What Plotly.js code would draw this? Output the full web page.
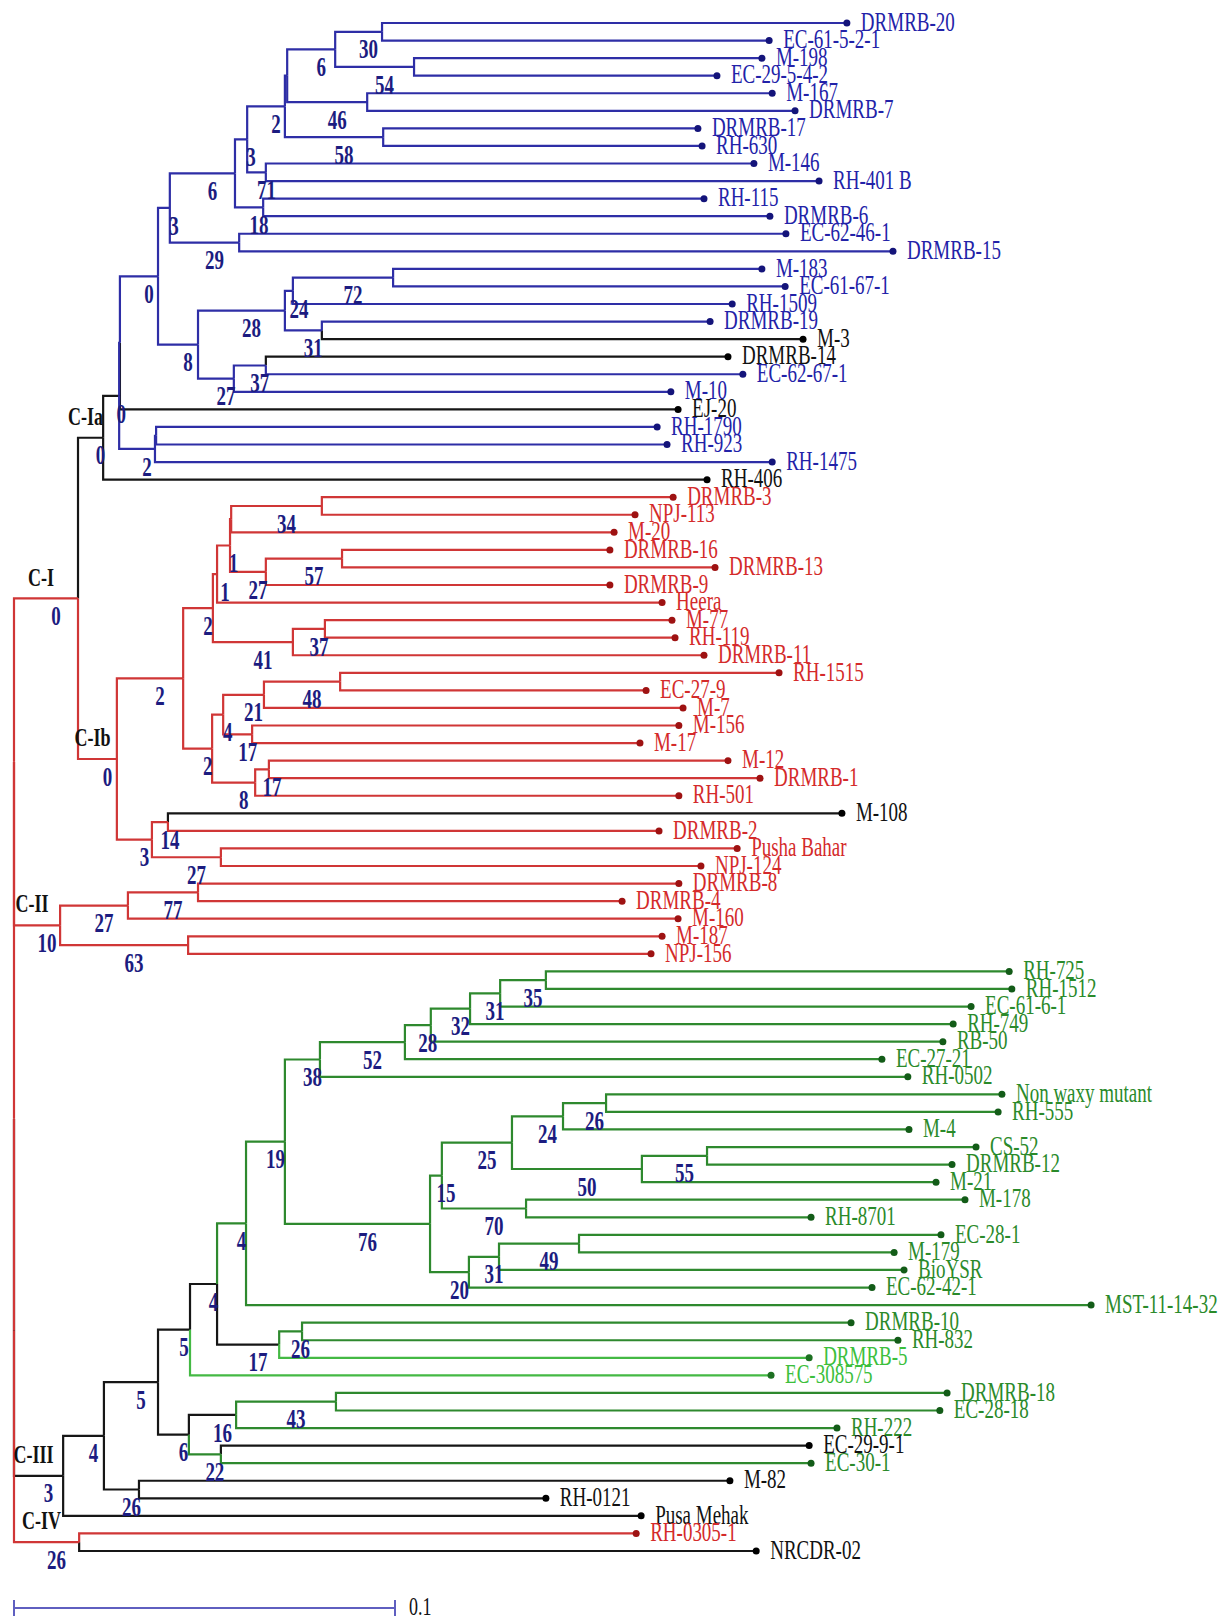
<!DOCTYPE html>
<html><head><meta charset="utf-8">
<script src="https://cdn.plot.ly/plotly-3.0.1.min.js"></script>
<style>html,body{margin:0;padding:0;background:#fff}#chart{width:1229px;height:1624px}</style>
</head><body><div id="chart"></div>
<script>
// ---------- DATA ----------
const leafNames = ['DRMRB-20','EC-61-5-2-1','M-198','EC-29-5-4-2','M-167','DRMRB-7','DRMRB-17','RH-630','M-146','RH-401 B',
 'RH-115','DRMRB-6','EC-62-46-1','DRMRB-15','M-183','EC-61-67-1','RH-1509','DRMRB-19','M-3','DRMRB-14',
 'EC-62-67-1','M-10','EJ-20','RH-1790','RH-923','RH-1475','RH-406','DRMRB-3','NPJ-113','M-20',
 'DRMRB-16','DRMRB-13','DRMRB-9','Heera','M-77','RH-119','DRMRB-11','RH-1515','EC-27-9','M-7',
 'M-156','M-17','M-12','DRMRB-1','RH-501','M-108','DRMRB-2','Pusha Bahar','NPJ-124','DRMRB-8',
 'DRMRB-4','M-160','M-187','NPJ-156','RH-725','RH-1512','EC-61-6-1','RH-749','RB-50','EC-27-21',
 'RH-0502','Non waxy mutant','RH-555','M-4','CS-52','DRMRB-12','M-21','M-178','RH-8701','EC-28-1',
 'M-179','BioYSR','EC-62-42-1','MST-11-14-32','DRMRB-10','RH-832','DRMRB-5','EC-308575','DRMRB-18','EC-28-18',
 'RH-222','EC-29-9-1','EC-30-1','M-82','RH-0121','Pusa Mehak','RH-0305-1','NRCDR-02'];
const leafDist = [0.2186,0.1982,0.1963,0.1845,0.1990,0.2050,0.1795,0.1806,0.1942,0.2113,
 0.1811,0.1984,0.2026,0.2307,0.1963,0.2024,0.1885,0.1827,0.2071,0.1874,
 0.1913,0.1724,0.1743,0.1688,0.1714,0.1990,0.1819,0.1730,0.1630,0.1575,
 0.1564,0.1840,0.1564,0.1701,0.1727,0.1735,0.1811,0.2008,0.1659,0.1756,
 0.1745,0.1643,0.1874,0.1958,0.1745,0.2173,0.1693,0.1898,0.1803,0.1745,
 0.1596,0.1743,0.1701,0.1672,0.2612,0.2619,0.2512,0.2465,0.2438,0.2278,
 0.2346,0.2593,0.2583,0.2349,0.2525,0.2462,0.2420,0.2496,0.2092,0.2433,
 0.2310,0.2336,0.2252,0.2827,0.2197,0.2320,0.2087,0.1987,0.2449,0.2430,
 0.2160,0.2087,0.2092,0.1879,0.1396,0.1646,0.1633,0.1948];
const leafGroup = ['b','b','b','b','b','b','b','b','b','b',
 'b','b','b','b','b','b','b','b','k','k',
 'b','b','k','b','b','b','k','r','r','r',
 'r','r','r','r','r','r','r','r','r','r',
 'r','r','r','r','r','k','r','r','r','r',
 'r','r','r','r','g','g','g','g','g','g',
 'g','g','g','g','g','g','g','g','g','g',
 'g','g','g','g','g','g','lg','lg','g','g',
 'g','k','g','k','k','k','r','k'];

// internal nodes, children listed before parents
const nodeNames = ['a','b','c','d','e','f','g','k','h','l','j','m','n','p','q','r','s','t','u','v','w','x1','y1','y2','x2','CIa',
 'aa','bb','ee','dd','cc','ff','ii','hh','gg','ll','mm','nn','oo','qq','pp','kk','jj','ss','tt','rr','CIb','CI',
 'ww','vv','xx','CII',
 'A1','A2','A3','A4','A5','A6','B1','B2','B3','B4','B5','B6','B7','C1','C2','C3','B8','A7','D1','D2','D3','D4','D5',
 'E1','E2','E3','E4','F1','F2','F3','CIII','CIV','R1','R2','R3'];
const nodeLeft = ['DRMRB-20','M-198','a','M-167','DRMRB-17','c','f','M-146','g','RH-115','h','EC-62-46-1','j','M-183','p','DRMRB-19','q','DRMRB-14','t','s','n','w','RH-1790','y1','x1','x2',
 'DRMRB-3','aa','DRMRB-16','ee','bb','cc','M-77','ii','ff','RH-1515','ll','M-156','mm','M-12','qq','oo','gg','M-108','Pusha Bahar','ss','jj','CIa',
 'DRMRB-8','ww','M-187','vv',
 'RH-725','A1','A2','A3','A4','A5','Non waxy mutant','B1','CS-52','B3','B2','M-178','B5','EC-28-1','C1','C2','B7','A6','A7','DRMRB-10','D2','D1','D4',
 'DRMRB-18','E1','EC-29-9-1','E2','D5','M-82','F1','F3','RH-0305-1','CI','R1','R2'];
const nodeRight = ['EC-61-5-2-1','EC-29-5-4-2','b','DRMRB-7','RH-630','d','e','RH-401 B','k','DRMRB-6','l','DRMRB-15','m','EC-61-67-1','RH-1509','M-3','r','EC-62-67-1','M-10','u','v','EJ-20','RH-923','RH-1475','y2','RH-406',
 'NPJ-113','M-20','DRMRB-13','DRMRB-9','dd','Heera','RH-119','DRMRB-11','hh','EC-27-9','M-7','M-17','nn','DRMRB-1','RH-501','pp','kk','DRMRB-2','NPJ-124','tt','rr','CIb',
 'DRMRB-4','M-160','NPJ-156','xx',
 'RH-1512','EC-61-6-1','RH-749','RB-50','EC-27-21','RH-0502','RH-555','M-4','DRMRB-12','M-21','B4','RH-8701','B6','M-179','BioYSR','EC-62-42-1','C3','B8','MST-11-14-32','RH-832','DRMRB-5','D3','EC-308575',
 'EC-28-18','RH-222','EC-30-1','E3','E4','RH-0121','F2','Pusa Mehak','NRCDR-02','CII','CIII','CIV'];
const nodeDist = [0.0966,0.1050,0.0843,0.0927,0.0969,0.0717,0.0711,0.0661,0.0612,0.0654,0.0580,0.0591,0.0409,0.0995,0.0732,0.0808,0.0711,0.0661,0.0577,0.0483,0.0378,0.0278,0.0373,0.0370,0.0276,0.0234,
 0.0808,0.0570,0.0861,0.0661,0.0567,0.0533,0.0816,0.0732,0.0522,0.0856,0.0656,0.0625,0.0549,0.0669,0.0633,0.0520,0.0444,0.0404,0.0543,0.0362,0.0270,0.0168,
 0.0483,0.0299,0.0457,0.0121,
 0.1396,0.1276,0.1197,0.1094,0.1026,0.0803,0.1554,0.1441,0.1819,0.1648,0.1307,0.1344,0.1123,0.1483,0.1273,0.1194,0.1092,0.0711,0.0609,0.0756,0.0696,0.0533,0.0462,
 0.0845,0.0583,0.0543,0.0459,0.0378,0.0328,0.0236,0.0129,0.0171,0,0,0];
const nodeBoot = [30,54,6,46,58,null,2,71,3,18,6,29,3,72,24,31,28,37,27,8,0,null,null,2,0,0,
 34,null,57,27,1,1,37,41,2,48,21,17,4,17,8,2,2,14,27,3,0,0,
 77,27,63,10,
 35,31,32,28,52,38,26,24,55,50,25,70,15,49,31,20,76,19,4,26,17,4,5,
 43,16,22,6,5,26,4,3,26,null,null,null];
const nodeGroup = ['b','b','b','b','b','b','b','b','b','b','b','b','b','b','b','b','b','b','b','b','b','b','b','b','k','k',
 'r','r','r','r','r','r','r','r','r','r','r','r','r','r','r','r','r','r','r','r','r','r',
 'r','r','r','r',
 'g','g','g','g','g','g','g','g','g','g','g','g','g','g','g','g','g','g','g','g','k','k','k',
 'g','k','g','k','k','k','k','k','r','r','r','r'];

const clusterNames = ['C-I','C-Ia','C-Ib','C-II','C-III','C-IV'];
const clusterNodes = ['CI','CIa','CIb','CII','CIII','CIV'];
const scaleLen = 0.1;
const scaleText = '0.1';

// ---------- LAYOUT CONSTANTS ----------
const W = 1229, H = 1624;
const PXU = 3810;      // pixels per distance unit
const X0 = 14;         // pixel of distance 0
const ROW = 17.563;    // pixels per leaf row
const Y0 = 23;         // pixel of first leaf
const dx = px => px / PXU;
const dy = px => px / ROW;

const lineCol = {k:'#161616', b:'#2e2ea6', r:'#d03636', g:'#2e892e', lg:'#44b944'};
const dotCol  = {k:'#000000', b:'#14147a', r:'#9e1212', g:'#135c18', lg:'#1d7022'};
const textCol = {k:'#111111', b:'#2222a8', r:'#d42a2a', g:'#2a8a2a', lg:'#3cbf3c'};
const FONT = 'Liberation Serif, Times New Roman, serif';

// ---------- BUILD TREE ----------
const pos = {}, grp = {}, parentOf = {};
leafNames.forEach((n, i) => { pos[n] = {d: leafDist[i], y: i}; grp[n] = leafGroup[i]; });
nodeNames.forEach((n, i) => {
  const A = pos[nodeLeft[i]], B = pos[nodeRight[i]];
  pos[n] = {d: nodeDist[i], y: (A.y + B.y) / 2};
  grp[n] = nodeGroup[i];
  parentOf[nodeLeft[i]] = n; parentOf[nodeRight[i]] = n;
});

const segs = {k:{x:[],y:[]}, b:{x:[],y:[]}, r:{x:[],y:[]}, g:{x:[],y:[]}, lg:{x:[],y:[]}};
nodeNames.forEach((n, i) => {
  const P = pos[n];
  [nodeLeft[i], nodeRight[i]].forEach(c => {
    const C = pos[c], s = segs[grp[c]];
    s.x.push(P.d, P.d, C.d, null);
    s.y.push(P.y, C.y, C.y, null);
  });
});

const traces = [];
['k','b','r','g','lg'].forEach(c => {
  traces.push({type:'scatter', mode:'lines', x:segs[c].x, y:segs[c].y,
    line:{color:lineCol[c], width:2.2}, hoverinfo:'skip', cliponaxis:false});
});

// leaf dots
traces.push({type:'scatter', mode:'markers', x:leafDist, y:leafNames.map((n,i)=>i),
  marker:{size:7, color:leafGroup.map(g=>dotCol[g])}, hoverinfo:'skip', cliponaxis:false});

// leaf labels
traces.push({type:'scatter', mode:'text', x:leafDist.map(d=>d+dx(14)), y:leafNames.map((n,i)=>i),
  text:leafNames, textposition:'middle right',
  textfont:{family:FONT, size:19, color:leafGroup.map(g=>textCol[g])}, hoverinfo:'skip', cliponaxis:false});

// bootstrap labels
const bx = [], by = [], bt = [];
nodeNames.forEach((n, i) => {
  if (nodeBoot[i] === null || !parentOf[n]) return;
  const P = pos[parentOf[n]], N = pos[n];
  bx.push((P.d + N.d) / 2 + dx(10));
  by.push(N.y + dy(19));
  bt.push(String(nodeBoot[i]));
});
traces.push({type:'scatter', mode:'text', x:bx, y:by, text:bt, textposition:'middle center',
  textfont:{family:FONT, size:19, color:'#1c1c80', weight:'bold'}, hoverinfo:'skip', cliponaxis:false});

// cluster labels
const cx = [], cy = [];
clusterNodes.forEach(n => {
  const P = pos[parentOf[n]], N = pos[n];
  cx.push((P.d + N.d) / 2 - dx(5));
  cy.push(N.y - dy(20));
});
traces.push({type:'scatter', mode:'text', x:cx, y:cy, text:clusterNames, textposition:'middle center',
  textfont:{family:FONT, size:18, color:'#111', weight:'bold'}, hoverinfo:'skip', cliponaxis:false});

// scale bar
const sy = dy(1608 - Y0);
traces.push({type:'scatter', mode:'lines',
  x:[0, scaleLen, null, 0, 0, null, scaleLen, scaleLen],
  y:[sy, sy, null, sy - dy(8), sy + dy(8), null, sy - dy(8), sy + dy(8)],
  line:{color:'#5f5fc0', width:2}, hoverinfo:'skip', cliponaxis:false});
traces.push({type:'scatter', mode:'text', x:[scaleLen + dx(14)], y:[sy], text:[scaleText],
  textposition:'middle right', textfont:{family:FONT, size:18, color:'#111'}, hoverinfo:'skip', cliponaxis:false});

const layout = {
  width:W, height:H, margin:{l:0, r:0, t:0, b:0},
  paper_bgcolor:'#ffffff', plot_bgcolor:'#ffffff', showlegend:false,
  xaxis:{range:[-X0 / PXU, (W - X0) / PXU], visible:false, showgrid:false, zeroline:false},
  yaxis:{range:[(H - Y0) / ROW, -Y0 / ROW], visible:false, showgrid:false, zeroline:false}
};

Plotly.newPlot('chart', traces, layout, {staticPlot:true, displayModeBar:false}).then(gd => {
  // the reference image is vertically stretched: stretch text glyphs to match
  const SY = 1.45;
  gd.querySelectorAll('g.textpoint text').forEach(t => {
    const bb = t.getBBox();
    const c = bb.y + bb.height / 2;
    const prev = t.getAttribute('transform') || '';
    t.setAttribute('transform', prev + ' translate(0 ' + c + ') scale(1 ' + SY + ') translate(0 ' + (-c) + ')');
  });
});
</script>
</body></html>
